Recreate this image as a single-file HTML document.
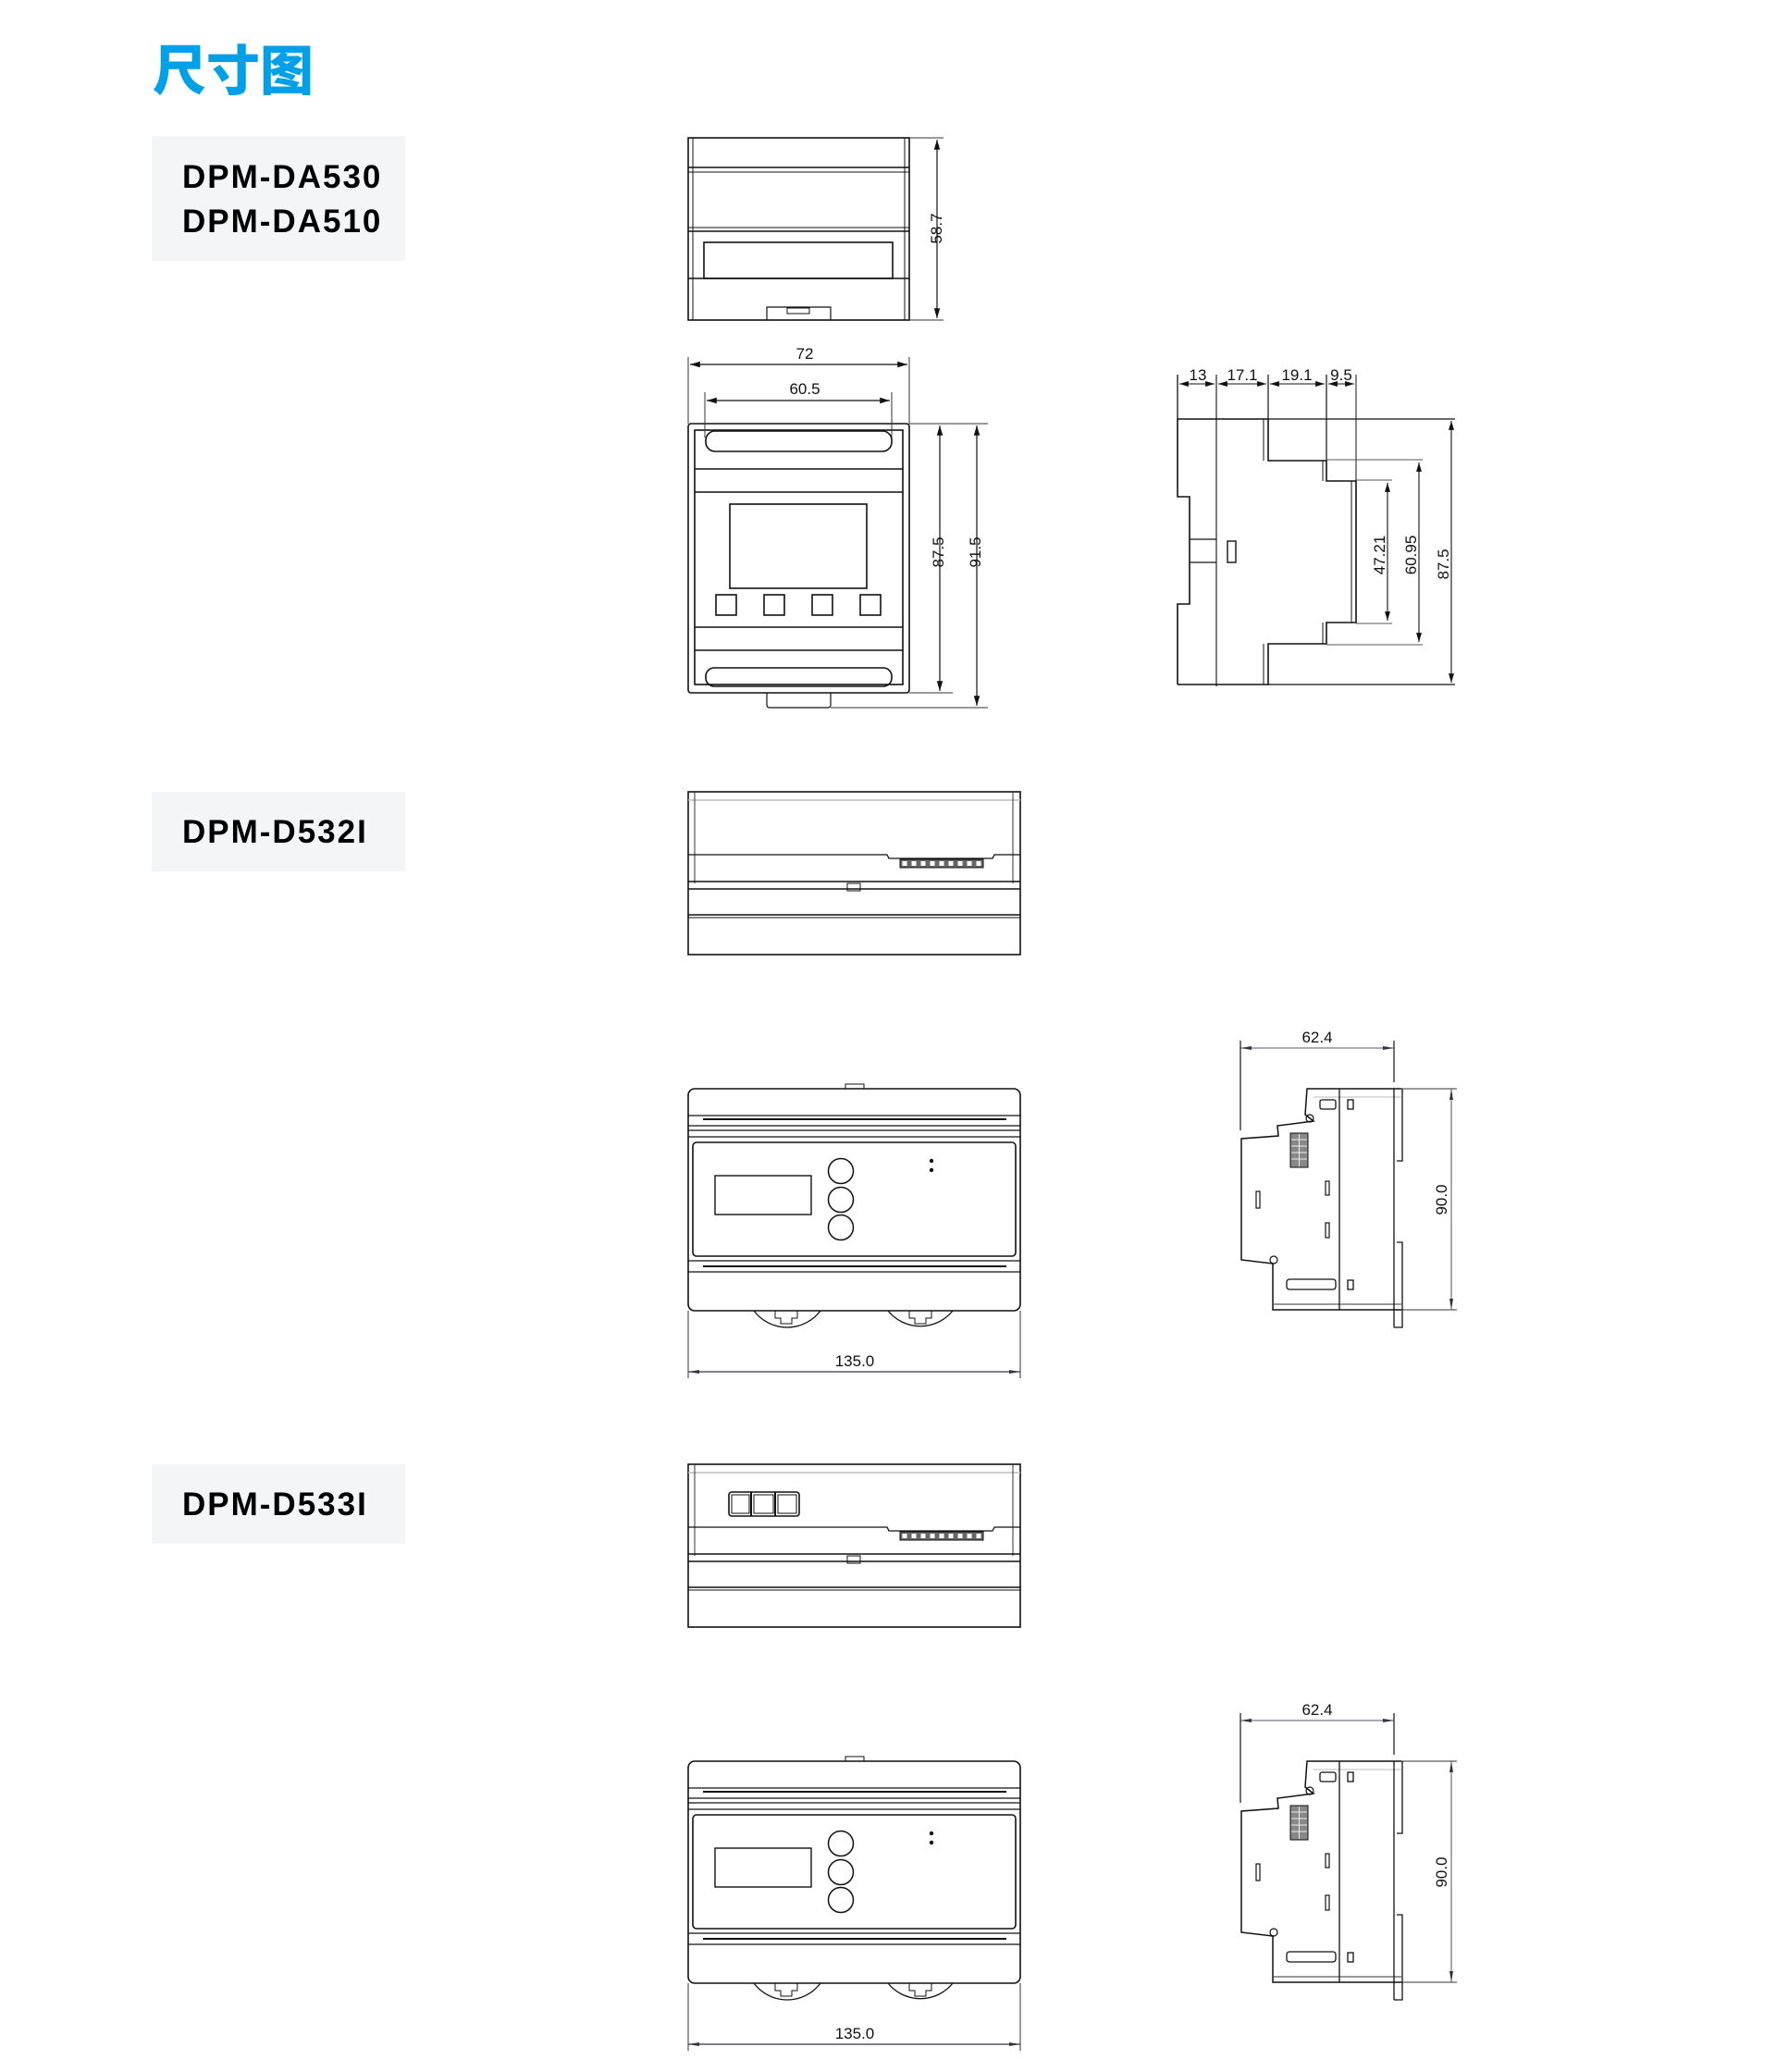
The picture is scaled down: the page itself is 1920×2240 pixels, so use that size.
<!DOCTYPE html>
<html><head><meta charset="utf-8"><style>
html,body{margin:0;padding:0;background:#fff;}
svg{display:block}
.t{font-family:"Liberation Sans",sans-serif;font-size:17px;fill:#111}
.lab{font-family:"Liberation Sans",sans-serif;font-size:35px;font-weight:bold;fill:#000;letter-spacing:2px}
</style></head><body>
<svg width="1920" height="2240" viewBox="0 0 1920 2240" xmlns="http://www.w3.org/2000/svg">
<defs>
<marker id="a" viewBox="0 0 10 10" refX="10" refY="5" markerWidth="9" markerHeight="9" orient="auto-start-reverse"><path d="M0,2 L10,5 L0,8 z" fill="#111"/></marker>
<g id="d53top">
  <rect x="744" y="856" width="359" height="176" fill="none" stroke="#111" stroke-width="1.6"/>
  <line x1="744" y1="865" x2="1103" y2="865" stroke="#bbb" stroke-width="1.5"/>
  <line x1="751" y1="856" x2="751" y2="955" stroke="#333" stroke-width="1"/>
  <line x1="1095" y1="856" x2="1095" y2="955" stroke="#333" stroke-width="1"/>
  <polyline points="744,924 959,924 961,928 1073,928 1075,924 1103,924" fill="none" stroke="#111" stroke-width="1.3"/>
  <rect x="973" y="929" width="90" height="9" fill="#666" stroke="#111" stroke-width="1"/>
  <g fill="#fff">
    <rect x="975.5" y="931" width="5" height="5"/><rect x="985.5" y="931" width="5" height="5"/><rect x="995.5" y="931" width="5" height="5"/><rect x="1005.5" y="931" width="5" height="5"/><rect x="1015.5" y="931" width="5" height="5"/><rect x="1025.5" y="931" width="5" height="5"/><rect x="1035.5" y="931" width="5" height="5"/><rect x="1045.5" y="931" width="5" height="5"/><rect x="1055.5" y="931" width="5" height="5"/>
  </g>
  <line x1="744" y1="953" x2="1103" y2="953" stroke="#111" stroke-width="1.6"/>
  <line x1="744" y1="961" x2="1103" y2="961" stroke="#111" stroke-width="1.6"/>
  <rect x="916" y="955" width="14" height="8" fill="none" stroke="#111" stroke-width="1"/>
  <line x1="744" y1="989" x2="1103" y2="989" stroke="#111" stroke-width="1.6"/>
  <line x1="744" y1="992" x2="1103" y2="992" stroke="#111" stroke-width="1"/>
</g>
<g id="d53front">
  <rect x="744" y="1177" width="359" height="240" rx="7" fill="none" stroke="#111" stroke-width="1.6"/>
  <rect x="914" y="1172" width="20" height="5" fill="none" stroke="#111" stroke-width="1"/>
  <line x1="744" y1="1206" x2="1103" y2="1206" stroke="#111" stroke-width="1.3"/>
  <line x1="760" y1="1210" x2="1088" y2="1210" stroke="#111" stroke-width="2"/>
  <line x1="744" y1="1217" x2="1103" y2="1217" stroke="#111" stroke-width="1.3"/>
  <line x1="744" y1="1222" x2="1103" y2="1222" stroke="#111" stroke-width="1.3"/>
  <line x1="744" y1="1229" x2="1103" y2="1229" stroke="#111" stroke-width="1.3"/>
  <rect x="749" y="1235" width="349" height="123" rx="4" fill="none" stroke="#111" stroke-width="1.6"/>
  <rect x="773" y="1271" width="104" height="42" fill="none" stroke="#111" stroke-width="1.4"/>
  <circle cx="909" cy="1266" r="13.5" fill="none" stroke="#111" stroke-width="1.5"/>
  <circle cx="909" cy="1297" r="13.5" fill="none" stroke="#111" stroke-width="1.5"/>
  <circle cx="909" cy="1327" r="13.5" fill="none" stroke="#111" stroke-width="1.5"/>
  <circle cx="1007" cy="1255" r="2.2" fill="#111"/>
  <circle cx="1007" cy="1265" r="2.2" fill="#111"/>
  <line x1="744" y1="1363" x2="1103" y2="1363" stroke="#111" stroke-width="1.3"/>
  <line x1="760" y1="1369" x2="1088" y2="1369" stroke="#111" stroke-width="2"/>
  <line x1="744" y1="1375" x2="1103" y2="1375" stroke="#111" stroke-width="1.3"/>
  <path d="M815 1417 A45 45 0 0 0 887 1417" fill="none" stroke="#111" stroke-width="1.3"/>
  <path d="M960 1417 A45 45 0 0 0 1030 1417" fill="none" stroke="#111" stroke-width="1.3"/>
  <path d="M838 1417 v8 h6 v6 h12 v-6 h6 v-8" fill="none" stroke="#111" stroke-width="1"/>
  <path d="M983 1417 v8 h6 v6 h12 v-6 h6 v-8" fill="none" stroke="#111" stroke-width="1"/>
  <line x1="744" y1="1417" x2="744" y2="1490" stroke="#333" stroke-width="1"/>
  <line x1="1103" y1="1417" x2="1103" y2="1490" stroke="#333" stroke-width="1"/>
  <line x1="744" y1="1483" x2="1103" y2="1483" stroke="#334" stroke-width="1.2"/>
  <path d="M744 1483 l12 -2 v4 z M1103 1483 l-12 -2 v4 z" fill="#334"/>
  <text class="t" x="924" y="1477" text-anchor="middle">135.0</text>
</g>
<g id="d53side">
  <line x1="1341" y1="1133" x2="1507" y2="1133" stroke="#556" stroke-width="1"/>
  <path d="M1341 1133 l12 -2 v4 z M1507 1133 l-12 -2 v4 z" fill="#334"/>
  <line x1="1341" y1="1125" x2="1341" y2="1222" stroke="#223" stroke-width="1.3"/>
  <line x1="1507" y1="1125" x2="1507" y2="1170" stroke="#223" stroke-width="1.3"/>
  <text class="t" x="1424" y="1127" text-anchor="middle">62.4</text>
  <polyline points="1420,1177 1515,1177" fill="none" stroke="#111" stroke-width="1.5"/>
  <line x1="1515" y1="1177" x2="1575" y2="1177" stroke="#333" stroke-width="1"/>
  <line x1="1420" y1="1186" x2="1515" y2="1186" stroke="#bbb" stroke-width="1"/>
  <polyline points="1420,1177 1413,1177 1411,1205 1420,1212 1381,1217 1382,1228 1342,1231 1342,1362 1376,1366 1376,1416 1515,1416" fill="none" stroke="#111" stroke-width="1.5"/>
  <line x1="1515" y1="1416" x2="1575" y2="1416" stroke="#333" stroke-width="1"/>
  <line x1="1377" y1="1410" x2="1515" y2="1410" stroke="#333" stroke-width="1"/>
  <line x1="1448" y1="1177" x2="1448" y2="1416" stroke="#111" stroke-width="1.3"/>
  <line x1="1507" y1="1177" x2="1507" y2="1435" stroke="#111" stroke-width="1.3"/>
  <polyline points="1516,1177 1516,1255 1510,1255" fill="none" stroke="#111" stroke-width="1.3"/>
  <polyline points="1510,1343 1516,1343 1516,1435 1507,1435" fill="none" stroke="#111" stroke-width="1.3"/>
  <circle cx="1416" cy="1209" r="4" fill="none" stroke="#111" stroke-width="1.2"/>
  <circle cx="1377" cy="1362" r="4" fill="none" stroke="#111" stroke-width="1.2"/>
  <rect x="1427" y="1189" width="17" height="10" rx="2" fill="none" stroke="#111" stroke-width="1.3"/>
  <rect x="1457" y="1189" width="6" height="10" fill="none" stroke="#111" stroke-width="1.3"/>
  <rect x="1395" y="1225" width="19" height="37" fill="#888" stroke="#111" stroke-width="1"/>
  <g stroke="#eee" stroke-width="1"><line x1="1404.5" y1="1226" x2="1404.5" y2="1261"/><line x1="1396" y1="1232" x2="1413" y2="1232"/><line x1="1396" y1="1239" x2="1413" y2="1239"/><line x1="1396" y1="1246" x2="1413" y2="1246"/><line x1="1396" y1="1253" x2="1413" y2="1253"/></g>
  <rect x="1358" y="1288" width="4" height="18" fill="none" stroke="#111" stroke-width="1.2"/>
  <rect x="1433" y="1277" width="4" height="15" fill="none" stroke="#111" stroke-width="1.2"/>
  <rect x="1433" y="1322" width="4" height="16" fill="none" stroke="#111" stroke-width="1.2"/>
  <rect x="1391" y="1383" width="53" height="11" rx="3" fill="none" stroke="#111" stroke-width="1.3"/>
  <rect x="1457" y="1384" width="6" height="10" fill="none" stroke="#111" stroke-width="1.3"/>
  <line x1="1569" y1="1177" x2="1569" y2="1416" stroke="#556" stroke-width="1"/>
  <path d="M1569 1177 l-2 12 h4 z M1569 1416 l-2 -12 h4 z" fill="#334"/>
  <text class="t" transform="translate(1564 1297) rotate(-90)" text-anchor="middle">90.0</text>
</g>
</defs>

<text x="165" y="97" font-family="'Liberation Sans','Noto Sans CJK SC',sans-serif" font-size="58" font-weight="900" fill="#00a0e9">尺寸图</text>

<rect x="164" y="147" width="274" height="135" fill="#f4f5f7"/>
<text class="lab" x="197" y="203">DPM-DA530</text>
<text class="lab" x="197" y="251">DPM-DA510</text>
<rect x="164" y="856" width="274" height="86" fill="#f4f5f7"/>
<text class="lab" x="197" y="911">DPM-D532I</text>
<rect x="164" y="1583" width="274" height="86" fill="#f4f5f7"/>
<text class="lab" x="197" y="1638">DPM-D533I</text>

<!-- DA530 top view -->
<g fill="none" stroke="#111" stroke-width="1.6">
  <rect x="744" y="149" width="239" height="197"/>
  <line x1="749" y1="149" x2="749" y2="346" stroke-width="1"/>
  <line x1="978" y1="149" x2="978" y2="346" stroke-width="1"/>
  <line x1="744" y1="181" x2="983" y2="181"/>
  <line x1="744" y1="186" x2="983" y2="186" stroke-width="1"/>
  <line x1="744" y1="246" x2="983" y2="246" stroke-width="1"/>
  <line x1="744" y1="250" x2="983" y2="250"/>
  <rect x="761" y="262" width="204" height="39"/>
  <line x1="744" y1="301" x2="983" y2="301"/>
  <polyline points="829,346 829,332 898,332 898,346" stroke-width="1.2"/>
  <rect x="851" y="333" width="24" height="6" stroke-width="1"/>
</g>
<line x1="983" y1="149" x2="1020" y2="149" stroke="#333" stroke-width="1"/>
<line x1="983" y1="346" x2="1020" y2="346" stroke="#333" stroke-width="1"/>
<line x1="1013" y1="151" x2="1013" y2="344" stroke="#111" stroke-width="1.2" marker-start="url(#a)" marker-end="url(#a)"/>
<text class="t" transform="translate(1018 247) rotate(-90)" text-anchor="middle" font-size="19">58.7</text>

<!-- DA530 front view -->
<g fill="none" stroke="#111" stroke-width="1.6">
  <rect x="744" y="458" width="239" height="291" rx="3"/>
  <rect x="751" y="465" width="225" height="275"/>
  <rect x="763" y="466" width="201" height="22" rx="10"/>
  <line x1="751" y1="507" x2="976" y2="507"/>
  <line x1="751" y1="532" x2="976" y2="532"/>
  <rect x="789" y="545" width="148" height="91"/>
  <rect x="774" y="643" width="22" height="22"/>
  <rect x="826" y="643" width="22" height="22"/>
  <rect x="878" y="643" width="22" height="22"/>
  <rect x="930" y="643" width="22" height="22"/>
  <line x1="751" y1="678" x2="976" y2="678"/>
  <line x1="751" y1="703" x2="976" y2="703"/>
  <rect x="763" y="722" width="201" height="20" rx="9"/>
  <path d="M829 749 v13 q0 3 3 3 h63 q3 0 3 -3 v-13" stroke-width="1.2"/>
</g>
<line x1="744" y1="386" x2="744" y2="458" stroke="#333" stroke-width="1"/>
<line x1="983" y1="386" x2="983" y2="458" stroke="#333" stroke-width="1"/>
<line x1="746" y1="394" x2="981" y2="394" stroke="#111" stroke-width="1.2" marker-start="url(#a)" marker-end="url(#a)"/>
<text class="t" x="870" y="388" text-anchor="middle" font-size="19">72</text>
<line x1="762" y1="424" x2="762" y2="473" stroke="#333" stroke-width="1"/>
<line x1="964" y1="424" x2="964" y2="473" stroke="#333" stroke-width="1"/>
<line x1="764" y1="433" x2="962" y2="433" stroke="#111" stroke-width="1.2" marker-start="url(#a)" marker-end="url(#a)"/>
<text class="t" x="870" y="426" text-anchor="middle" font-size="19">60.5</text>
<line x1="983" y1="458" x2="1068" y2="458" stroke="#333" stroke-width="1"/>
<line x1="983" y1="749" x2="1030" y2="749" stroke="#333" stroke-width="1"/>
<line x1="898" y1="765" x2="1068" y2="765" stroke="#333" stroke-width="1"/>
<line x1="1016" y1="460" x2="1016" y2="747" stroke="#111" stroke-width="1.2" marker-start="url(#a)" marker-end="url(#a)"/>
<line x1="1056" y1="460" x2="1056" y2="763" stroke="#111" stroke-width="1.2" marker-start="url(#a)" marker-end="url(#a)"/>
<text class="t" transform="translate(1020 597) rotate(-90)" text-anchor="middle" font-size="19">87.5</text>
<text class="t" transform="translate(1060 597) rotate(-90)" text-anchor="middle" font-size="19">91.5</text>

<!-- DA530 side view -->
<g fill="none" stroke="#111" stroke-width="1.6">
  <polyline points="1273,453 1371,453 1371,498 1434,498 1434,520 1466,520 1466,673 1434,673 1434,696 1371,696 1371,740 1273,740"/>
  <polyline points="1273,453 1273,537 1286,537 1286,653 1273,653 1273,740"/>
  <polyline points="1366,453 1366,498" stroke-width="1"/>
  <polyline points="1430,498 1430,520" stroke-width="1"/>
  <polyline points="1461,520 1461,673" stroke-width="1"/>
  <polyline points="1430,673 1430,696" stroke-width="1"/>
  <polyline points="1366,696 1366,740" stroke-width="1"/>
  <polyline points="1286,583 1315,583" stroke-width="1.2"/>
  <polyline points="1286,608 1315,608" stroke-width="1.2"/>
  <rect x="1327" y="585" width="9" height="23" stroke-width="1.4"/>
</g>
<line x1="1273" y1="405" x2="1273" y2="453" stroke="#111" stroke-width="1.3"/>
<line x1="1315" y1="405" x2="1315" y2="742" stroke="#111" stroke-width="1.1"/>
<line x1="1371" y1="405" x2="1371" y2="453" stroke="#111" stroke-width="1.2"/>
<line x1="1434" y1="405" x2="1434" y2="498" stroke="#111" stroke-width="1.2"/>
<line x1="1466" y1="405" x2="1466" y2="520" stroke="#111" stroke-width="1"/>
<line x1="1275" y1="415" x2="1313" y2="415" stroke="#111" stroke-width="1.1" marker-start="url(#a)" marker-end="url(#a)"/>
<line x1="1317" y1="415" x2="1369" y2="415" stroke="#111" stroke-width="1.1" marker-start="url(#a)" marker-end="url(#a)"/>
<line x1="1373" y1="415" x2="1432" y2="415" stroke="#111" stroke-width="1.1" marker-start="url(#a)" marker-end="url(#a)"/>
<line x1="1436" y1="415" x2="1464" y2="415" stroke="#111" stroke-width="1.1" marker-start="url(#a)" marker-end="url(#a)"/>
<text class="t" x="1295" y="411" text-anchor="middle" font-size="19">13</text>
<text class="t" x="1343" y="411" text-anchor="middle" font-size="19">17.1</text>
<text class="t" x="1402" y="411" text-anchor="middle" font-size="19">19.1</text>
<text class="t" x="1450" y="411" text-anchor="middle" font-size="19">9.5</text>
<line x1="1371" y1="453" x2="1573" y2="453" stroke="#111" stroke-width="1.2"/>
<line x1="1371" y1="740" x2="1573" y2="740" stroke="#111" stroke-width="1.2"/>
<line x1="1434" y1="497" x2="1538" y2="497" stroke="#555" stroke-width="1"/>
<line x1="1434" y1="697" x2="1538" y2="697" stroke="#555" stroke-width="1"/>
<line x1="1466" y1="519" x2="1505" y2="519" stroke="#555" stroke-width="1"/>
<line x1="1466" y1="674" x2="1505" y2="674" stroke="#555" stroke-width="1"/>
<line x1="1500" y1="522" x2="1500" y2="671" stroke="#111" stroke-width="1.1" marker-start="url(#a)" marker-end="url(#a)"/>
<line x1="1534" y1="500" x2="1534" y2="694" stroke="#111" stroke-width="1.1" marker-start="url(#a)" marker-end="url(#a)"/>
<line x1="1569" y1="455" x2="1569" y2="738" stroke="#111" stroke-width="1.1" marker-start="url(#a)" marker-end="url(#a)"/>
<text class="t" transform="translate(1497 600) rotate(-90)" text-anchor="middle" font-size="19">47.21</text>
<text class="t" transform="translate(1531 600) rotate(-90)" text-anchor="middle" font-size="19">60.95</text>
<text class="t" transform="translate(1566 610) rotate(-90)" text-anchor="middle" font-size="19">87.5</text>

<!-- D532I -->
<use href="#d53top"/>
<use href="#d53front"/>
<use href="#d53side"/>

<!-- D533I -->
<g transform="translate(0 727)">
  <use href="#d53top"/>
  <use href="#d53front"/>
  <use href="#d53side"/>
  <rect x="788" y="886" width="76" height="26" rx="3" fill="none" stroke="#111" stroke-width="1.6"/>
  <line x1="812" y1="886" x2="812" y2="912" stroke="#111" stroke-width="2"/>
  <line x1="838" y1="886" x2="838" y2="912" stroke="#111" stroke-width="2"/>
  <rect x="791" y="889" width="19" height="20" fill="none" stroke="#111" stroke-width="1"/>
  <rect x="815" y="889" width="21" height="20" fill="none" stroke="#111" stroke-width="1"/>
  <rect x="841" y="889" width="20" height="20" fill="none" stroke="#111" stroke-width="1"/>
</g>
</svg>
</body></html>
